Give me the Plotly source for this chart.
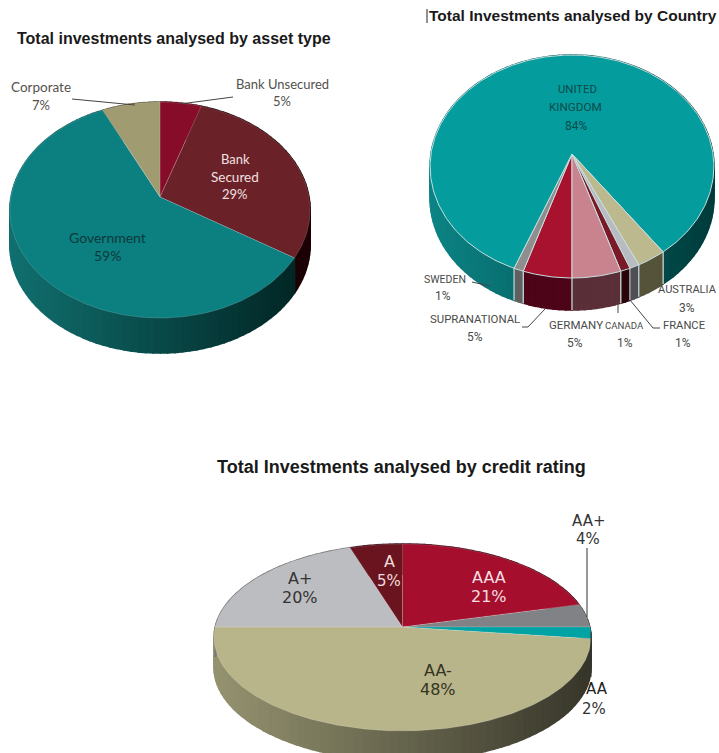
import numpy as np
import plotly.graph_objects as go

# Slice values, in clockwise drawing order from each pie's start angle
asset_labels = ["Bank Unsecured", "Bank Secured", "Government", "Corporate"]
asset_values = [5, 29, 59, 7]

country_labels = ["SUPRANATIONAL", "SWEDEN", "UNITED KINGDOM", "AUSTRALIA", "FRANCE", "CANADA", "GERMANY"]
country_values = [5, 1, 84, 3, 1, 1, 5]

rating_labels = ["AAA", "AA+", "AA", "AA-", "A+", "A"]
rating_values = [21, 4, 2, 48, 20, 5]

# Pie geometry in page pixels: apex, half axes, perspective strength, wall height
ASSET_GEOM = dict(cx=160, cy=197, a=106.4, b=149, k=0.121, depth=35, start=0)
COUNTRY_GEOM = dict(cx=572, cy=154, a=110.1, b=141, k=0.112, depth=32, start=180)
RATING_GEOM = dict(cx=402.5, cy=627, a=92.3, b=187.3, k=0.112, depth=30, start=0)

ASSET_TOP = ["#870c2a", "#6b2128", "#0c7f80", "#a19b72"]
ASSET_WALL = [("#4a0414", "#4a0414"), ("#330709", "#1c0204"), ("#11706f", "#012322"), ("#5c5a40", "#5c5a40")]

COUNTRY_TOP = ["#a8122f", "#8e8e8e", "#049c9c", "#bdb98f", "#b8bcc0", "#7a1a28", "#c9838f"]
COUNTRY_WALL = [("#4d0418", "#4d0418"), ("#606060", "#606060"), ("#0d8485", "#003c3c"),
                ("#55533a", "#55533a"), ("#4f4f55", "#4f4f55"), ("#2a0408", "#2a0408"), ("#5a2f38", "#5a2f38")]

RATING_TOP = ["#a50f2d", "#808285", "#00a3a3", "#b9b58a", "#bcbdc0", "#6a1420"]
RATING_WALL = [("#4a0414", "#4a0414"), ("#444444", "#444444"), ("#004c4c", "#004c4c"),
               ("#959370", "#37362a"), ("#77787a", "#77787a"), ("#3a0a10", "#3a0a10")]

BODY_FONT = "Lato"
CAPS_FONT = "Roboto"
RATING_FONT = "DejaVu Sans"
TITLE_FONT = "Liberation Sans"


def hex_rgb(c):
    return np.array([int(c[i:i + 2], 16) for i in (1, 3, 5)], float)


def blend(c1, c2, t):
    r = hex_rgb(c1) * (1 - t) + hex_rgb(c2) * t
    return "rgb(%d,%d,%d)" % tuple(r)


def rim(g, deg):
    """Project clock-angle degrees onto the pie's rim with a simple perspective."""
    th = np.radians(deg)
    u, v = np.sin(th), -np.cos(th)
    w = 1 - g["k"] * v
    return g["cx"] + g["b"] * u / w, g["cy"] + g["a"] * v / w


def polygon(fig, xs, ys, fill, line=None, width=0):
    fig.add_trace(go.Scatter(
        x=xs, y=ys, mode="lines", fill="toself", fillcolor=fill,
        line=dict(color=line or fill, width=width),
        hoverinfo="skip", showlegend=False,
    ))


def draw_pie(fig, values, geom, top, wall, edge, edge_width, wall_dividers):
    shares = np.array(values, float) / sum(values) * 360
    ends = geom["start"] + np.cumsum(shares)
    starts = ends - shares

    # Side wall, built from narrow strips so it can shade from left to right
    for s, e, (light, dark) in zip(starts, ends, wall):
        steps = np.linspace(s, e, max(2, int((e - s) / 2.5) + 2))
        for d0, d1 in zip(steps[:-1], steps[1:]):
            x0, y0 = rim(geom, d0)
            x1, y1 = rim(geom, d1)
            t = float(np.clip(((x0 + x1) / 2 - geom["cx"] + geom["b"]) / (2 * geom["b"]), 0, 1))
            col = blend(light, dark, t)
            polygon(fig, [x0, x1, x1, x0, x0],
                    [y0, y1, y1 + geom["depth"], y0 + geom["depth"], y0], col, width=1.6)

    if wall_dividers:
        for s in starts:
            x0, y0 = rim(geom, s)
            if y0 > geom["cy"]:
                fig.add_trace(go.Scatter(x=[x0, x0], y=[y0, y0 + geom["depth"]], mode="lines",
                                         line=dict(color=edge, width=1.2),
                                         hoverinfo="skip", showlegend=False))

    # Top face
    for s, e, col in zip(starts, ends, top):
        deg = np.linspace(s, e, max(3, int(e - s) + 2))
        xs, ys = rim(geom, deg)
        polygon(fig, np.r_[geom["cx"], xs, geom["cx"]], np.r_[geom["cy"], ys, geom["cy"]],
                col, line=edge, width=edge_width)


def leader(fig, xs, ys, color="#444444", width=1):
    fig.add_trace(go.Scatter(x=xs, y=ys, mode="lines", line=dict(color=color, width=width),
                             hoverinfo="skip", showlegend=False))


fig = go.Figure()

draw_pie(fig, asset_values, ASSET_GEOM, ASSET_TOP, ASSET_WALL, "rgba(255,255,255,0.25)", 0.6, False)
draw_pie(fig, country_values, COUNTRY_GEOM, COUNTRY_TOP, COUNTRY_WALL, "#c8dede", 1, True)
draw_pie(fig, rating_values, RATING_GEOM, RATING_TOP, RATING_WALL, "rgba(255,255,255,0.25)", 0.6, False)

# Leader lines between outside labels and their slices
leader(fig, [72, 135], [99, 105])
leader(fig, [233, 180], [97, 104])
leader(fig, [472, 490], [282, 286])
leader(fig, [522, 528, 545], [327, 327, 309])
leader(fig, [618, 618], [303, 313])
leader(fig, [630, 653, 660], [300, 328, 328])
leader(fig, [587, 587], [548, 617], color="#333333")
leader(fig, [591, 591], [632, 677], color="#333333")
leader(fig, [427, 427], [9, 23], color="#222222")


def pct(v):
    return f"{v}%"


# (text, x, y, colour, font, size, bold)
G1, G2, L = "#55504c", "#4a4a4a", "#f0e0e0"
texts = [
    ("Total investments analysed by asset type", 174, 38, "#1a1a1a", TITLE_FONT, 16, True),
    ("Total Investments analysed by Country", 573, 15, "#1a1a1a", TITLE_FONT, 15.5, True),
    ("Total Investments analysed by credit rating", 401, 467, "#1a1a1a", TITLE_FONT, 18, True),

    ("Corporate", 41, 87, G1, BODY_FONT, 13.5, False),
    (pct(asset_values[3]), 41, 105, G1, BODY_FONT, 13, False),
    ("Bank Unsecured", 282, 84, G1, BODY_FONT, 13, False),
    (pct(asset_values[0]), 282, 101, G1, BODY_FONT, 13, False),
    ("Bank", 235, 159, L, BODY_FONT, 13, False),
    ("Secured", 235, 177, L, BODY_FONT, 13.5, False),
    (pct(asset_values[1]), 235, 194, L, BODY_FONT, 13, False),
    ("Government", 107, 237, "#0b3a3c", BODY_FONT, 14, False),
    (pct(asset_values[2]), 107, 255, "#0b3a3c", BODY_FONT, 14, False),

    ("UNITED", 577, 89, "#0c4a4c", CAPS_FONT, 11.3, False),
    ("KINGDOM", 575, 107, "#0c4a4c", CAPS_FONT, 11.7, False),
    (pct(country_values[2]), 576, 126, "#0c4a4c", CAPS_FONT, 12, False),
    ("SWEDEN", 445, 279, G2, CAPS_FONT, 10.5, False),
    (pct(country_values[1]), 443, 296, G2, CAPS_FONT, 12, False),
    ("SUPRANATIONAL", 475, 319, G2, CAPS_FONT, 11.4, False),
    (pct(country_values[0]), 475, 337, G2, CAPS_FONT, 12, False),
    ("GERMANY", 576, 325, G2, CAPS_FONT, 11.5, False),
    (pct(country_values[6]), 575, 343, G2, CAPS_FONT, 12, False),
    ("CANADA", 624, 325, G2, CAPS_FONT, 9.6, False),
    (pct(country_values[5]), 625, 343, G2, CAPS_FONT, 12, False),
    ("FRANCE", 684, 325, G2, CAPS_FONT, 11.2, False),
    (pct(country_values[4]), 683, 343, G2, CAPS_FONT, 12, False),
    ("AUSTRALIA", 687, 289, G2, CAPS_FONT, 11.1, False),
    (pct(country_values[3]), 687, 308, G2, CAPS_FONT, 12, False),

    ("AAA", 489, 577, "#f6dfe2", RATING_FONT, 16, False),
    (pct(rating_values[0]), 489, 596, "#f6dfe2", RATING_FONT, 16, False),
    ("A", 389, 561, "#f0dcdc", RATING_FONT, 16, False),
    (pct(rating_values[5]), 389, 581, "#f0dcdc", RATING_FONT, 15, False),
    ("A+", 300, 578, "#333333", RATING_FONT, 16, False),
    (pct(rating_values[4]), 300, 597, "#333333", RATING_FONT, 16, False),
    ("AA-", 438, 670, "#333322", RATING_FONT, 16, False),
    (pct(rating_values[3]), 438, 689, "#333322", RATING_FONT, 16, False),
    ("AA+", 589, 521, "#333333", RATING_FONT, 15, False),
    (pct(rating_values[1]), 588, 539, "#333333", RATING_FONT, 15, False),
    ("AA", 597, 689, "#222222", RATING_FONT, 15, False),
    (pct(rating_values[2]), 594, 709, "#333333", RATING_FONT, 15, False),
]

annotations = [
    dict(x=x, y=y, xref="x", yref="y", text=f"<b>{t}</b>" if bold else t, showarrow=False,
         xanchor="center", yanchor="middle", font=dict(family=fam, size=size, color=col))
    for t, x, y, col, fam, size, bold in texts
]

fig.update_layout(
    width=719, height=753, margin=dict(l=0, r=0, t=0, b=0),
    paper_bgcolor="white", plot_bgcolor="white", showlegend=False,
    xaxis=dict(range=[0, 719], visible=False, fixedrange=True),
    yaxis=dict(range=[753, 0], visible=False, fixedrange=True),
    annotations=annotations,
)

fig.write_html("out.html", config=dict(displayModeBar=False))
